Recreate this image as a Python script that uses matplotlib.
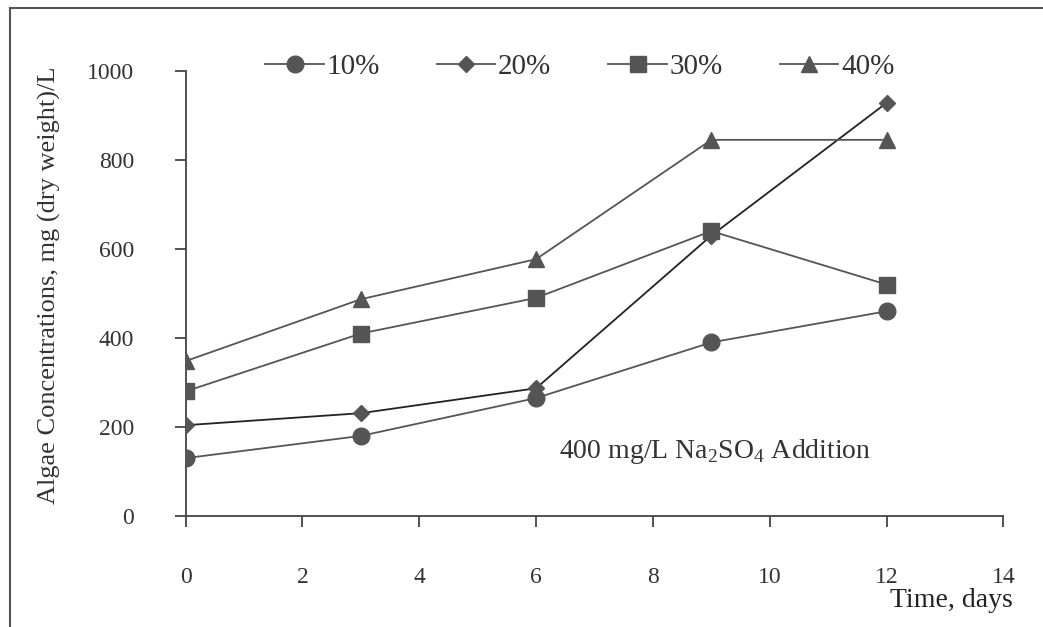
import matplotlib.pyplot as plt
from matplotlib.lines import Line2D

plt.rcParams['font.family'] = ['Liberation Serif', 'DejaVu Serif']
plt.rcParams['mathtext.fontset'] = 'custom'
plt.rcParams['mathtext.rm'] = 'Liberation Serif'

days = [0, 3, 6, 9, 12]
conc_10 = [130, 180, 265, 390, 460]
conc_20 = [204, 231, 287, 630, 928]
conc_30 = [280, 410, 490, 640, 520]
conc_40 = [348, 487, 577, 845, 845]
labels = ['10%', '20%', '30%', '40%']
markers = ['o', 'D', 's', '^']
msizes = [12, 8, 12, 11]

fig = plt.figure(figsize=(10.43, 6.27), dpi=100)
ax = fig.add_axes([0.178, 0.177, 0.784, 0.71])

grey = '#555555'
series = [conc_10, conc_20, conc_30, conc_40]
for vals, lab, mk, ms in zip(series, labels, markers, msizes):
    lc = '#222222' if lab == '20%' else grey
    ax.plot(days, vals, color=lc, lw=1.3, marker=mk, markersize=ms,
            markerfacecolor=grey, markeredgecolor=grey, label=lab, zorder=3)

ax.set_xlim(0, 14)
ax.set_ylim(0, 1000)
ax.set_xticks(range(0, 15, 2))
ax.set_yticks(range(0, 1001, 200))
for s in ['top', 'right']:
    ax.spines[s].set_visible(False)
for s in ['left', 'bottom']:
    ax.spines[s].set_color('#444444')
    ax.spines[s].set_linewidth(1.3)
ax.tick_params(axis='both', direction='out', length=8, width=1.3,
               color='#444444', labelsize=17, labelcolor='#333333')
ax.tick_params(axis='x', pad=29)
ax.tick_params(axis='y', pad=29)

ax.set_ylabel('Algae Concentrations, mg (dry weight)/L', fontsize=19,
              color='#333333')
ax.yaxis.set_label_coords(-0.152, 0.518)
fig.text(0.971, 0.043, 'Time, days', fontsize=20, color='#222222',
         ha='right', va='center')

ax.text(6.4, 145, '400 mg/L Na$_2$SO$_4$ Addition', fontsize=20,
        color='#333333', va='center')

handles = [Line2D([], [], color=grey, lw=1.3, marker=mk, markersize=ms,
                  markerfacecolor=grey, markeredgecolor=grey)
           for mk, ms in zip(markers, msizes)]
fig.legend(handles, labels, loc='center', bbox_to_anchor=(0.556, 0.893),
           ncol=4, frameon=False, fontsize=21, handlelength=2.0,
           handletextpad=0.1, columnspacing=1.95, labelcolor='#333333')

# outer frame lines of the chart area
fig.add_artist(Line2D([0.0096, 1.0], [0.987, 0.987], color='#555555', lw=1.5,
                      transform=fig.transFigure))
fig.add_artist(Line2D([0.0096, 0.0096], [0.0, 0.987], color='#555555', lw=1.5,
                      transform=fig.transFigure))

fig.savefig('out.png', dpi=100)
